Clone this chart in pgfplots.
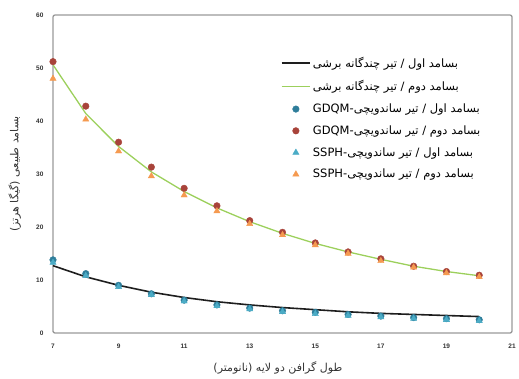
\documentclass[border=0pt]{standalone}
\usepackage{pgfplots}
\pgfplotsset{compat=1.18}
\usepackage{fontspec}
\setmainfont{Liberation Sans}
\newfontfamily\fa[Script=Arabic]{DejaVu Sans}
\TeXXeTstate=1
\definecolor{cgreen}{HTML}{9CD05C}
\definecolor{cblack}{HTML}{1E1E1E}
\definecolor{cgdq1}{HTML}{2E7D9A}
\definecolor{cgdq2}{HTML}{A8433A}
\definecolor{cssp1}{HTML}{4BACC6}
\definecolor{cssp2}{HTML}{F59A50}
\begin{document}
\begin{tikzpicture}
\begin{axis}[
  at={(0,0)}, anchor=south west,
  scale only axis, width=459pt, height=318pt,
  xmin=7, xmax=21, ymin=0, ymax=60,
  xtick={7,9,...,21}, ytick={0,10,...,60},
  major tick length=0pt,
  axis line style={draw=gray!80, line width=1.3pt, rounded corners=2pt},
  /pgf/number format/assume math mode=true,
  ticklabel style={font=\bfseries\fontsize{6.5}{7}\selectfont, text=black!80},
  xticklabel style={yshift=-7pt},
  yticklabel style={xshift=-6pt},
  xlabel={\hbox{\fa\beginR طول گرافن دو لایه (نانومتر)\endR}},
  ylabel={\hbox{\fa\beginR بسامد طبیعی (گیگا هرتز)\endR}},
  label style={font=\fontsize{11}{12}\selectfont, text=black!80},
  xlabel style={at={(axis description cs:0.49,-0.11)}, anchor=center},
  ylabel style={at={(axis description cs:-0.083,0.5)}, anchor=center},
  legend style={draw=none, fill=none, font=\fontsize{11.5}{12}\selectfont,
    at={(0.496,0.88)}, anchor=north west, row sep=7.5pt, legend cell align=left,
    inner xsep=0pt, /tikz/every even column/.style={column sep=2pt}},
  legend image code/.code={\draw[mark repeat=2,mark phase=2] plot coordinates {(0cm,0cm)(0.5cm,0cm)(1cm,0cm)};},
]
\addplot[cblack, line width=1.6pt, mark=none] coordinates {
(7,12.7)(8,10.6)(9,9.0)(10,7.7)(11,6.7)(12,5.9)(13,5.3)(14,4.8)(15,4.4)(16,4.0)(17,3.7)(18,3.5)(19,3.3)(20,3.1)};
\addlegendentry{\hbox{\fa\beginR بسامد اول / تیر چندگانه برشی\endR}}
\addplot[cgreen, line width=1.3pt, mark=none] coordinates {
(7,50.6)(8,41.4)(9,35.2)(10,30.4)(11,26.7)(12,23.6)(13,21.0)(14,18.8)(15,16.9)(16,15.3)(17,13.9)(18,12.6)(19,11.6)(20,10.8)};
\addlegendentry{\hbox{\fa\beginR بسامد دوم / تیر چندگانه برشی\endR}}
\addplot[only marks, mark=*, mark size=3.3pt, color=cgdq1] coordinates {
(7,13.8)(8,11.2)(9,9.0)(10,7.4)(11,6.2)(12,5.3)(13,4.7)(14,4.2)(15,3.9)(16,3.5)(17,3.2)(18,2.9)(19,2.7)(20,2.5)};
\addlegendentry{\hbox{\fa\beginR بسامد اول / تیر ساندویچی-\beginL GDQM\endL\endR}}
\addplot[only marks, mark=*, mark size=3.3pt, color=cgdq2] coordinates {
(7,51.2)(8,42.8)(9,36.0)(10,31.3)(11,27.3)(12,24.0)(13,21.2)(14,19.0)(15,17.0)(16,15.3)(17,14.0)(18,12.6)(19,11.6)(20,10.9)};
\addlegendentry{\hbox{\fa\beginR بسامد دوم / تیر ساندویچی-\beginL GDQM\endL\endR}}
\addplot[only marks, mark=triangle*, mark size=3.6pt, color=cssp1] coordinates {
(7,13.3)(8,10.8)(9,8.7)(10,7.2)(11,6.0)(12,5.1)(13,4.5)(14,4.0)(15,3.6)(16,3.3)(17,3.0)(18,2.7)(19,2.5)(20,2.3)};
\addlegendentry{\hbox{\fa\beginR بسامد اول / تیر ساندویچی-\beginL SSPH\endL\endR}}
\addplot[only marks, mark=triangle*, mark size=3.6pt, color=cssp2] coordinates {
(7,48.0)(8,40.3)(9,34.3)(10,29.6)(11,26.0)(12,23.0)(13,20.6)(14,18.5)(15,16.6)(16,15.0)(17,13.6)(18,12.4)(19,11.3)(20,10.6)};
\addlegendentry{\hbox{\fa\beginR بسامد دوم / تیر ساندویچی-\beginL SSPH\endL\endR}}
\end{axis}
\pgfresetboundingbox
\path (-53pt,-45pt) rectangle (466pt,333pt);
\end{tikzpicture}
\end{document}
